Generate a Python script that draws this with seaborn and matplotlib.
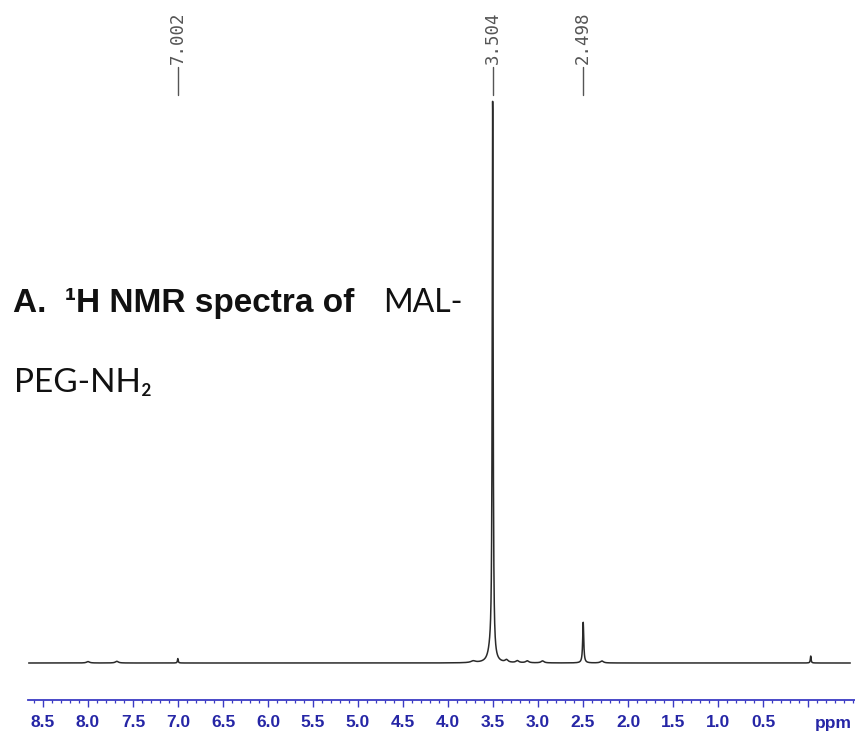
import numpy as np
import pandas as pd
import matplotlib
matplotlib.use("Agg")
import matplotlib.pyplot as plt
import matplotlib.transforms as mtransforms
import seaborn as sns

# ---- data ----
# peak positions (ppm), heights (relative, main peak = 100), half widths (ppm)
peak_ppm    = [8.00, 7.68, 7.002, 3.72, 3.53, 3.504, 3.35, 3.23, 3.12, 2.95, 2.498, 2.29, -0.03]
peak_height = [0.25, 0.30, 0.80,  0.30, 1.60, 100.0, 0.45, 0.35, 0.35, 0.35, 7.30,  0.35, 1.25]
peak_hwhm   = [0.02, 0.02, 0.005, 0.03, 0.03, 0.006, 0.02, 0.02, 0.02, 0.02, 0.007, 0.02, 0.005]

label_ppm = [7.002, 3.504, 2.498]
major_ticks = [8.5, 8.0, 7.5, 7.0, 6.5, 6.0, 5.5, 5.0, 4.5, 4.0, 3.5, 3.0, 2.5, 2.0, 1.5, 1.0, 0.5, 0.0]
major_labels = ["8.5", "8.0", "7.5", "7.0", "6.5", "6.0", "5.5", "5.0", "4.5", "4.0",
                "3.5", "3.0", "2.5", "2.0", "1.5", "1.0", "0.5", ""]

# spectrum built from the peak list (Lorentzian line shapes)
ppm = np.linspace(8.66, -0.47, 8000)
inten = np.zeros_like(ppm)
for p, h, w in zip(peak_ppm, peak_height, peak_hwhm):
    inten += h * w**2 / ((ppm - p)**2 + w**2)
df = pd.DataFrame({"ppm": ppm, "intensity": inten})

# ---- figure ----
sns.set_theme(style="white")
plt.rcParams["font.family"] = ["Liberation Sans", "DejaVu Sans"]

W, H = 855, 733
fig = plt.figure(figsize=(W / 100, H / 100), dpi=100)
ax = fig.add_axes([28 / W, 33 / H, (W - 28) / W, 700 / H])
ax.patch.set_alpha(0)

sns.lineplot(data=df, x="ppm", y="intensity", ax=ax, color="#2a2a2a",
             linewidth=1.1, sort=False, estimator=None)

ax.set_xlim(8.667, -0.522)
ax.set_ylim(-6.63, 118.8)
ax.set_xlabel("")
ax.set_ylabel("")
ax.set_yticks([])

for s in ["top", "left", "right"]:
    ax.spines[s].set_visible(False)
blue = "#3a3ac4"
ax.spines["bottom"].set_color(blue)
ax.spines["bottom"].set_linewidth(1.3)

ax.set_xticks(major_ticks)
ax.set_xticklabels(major_labels)
ax.set_xticks(np.round(np.arange(8.6, -0.55, -0.1), 2), minor=True)
ax.tick_params(axis="x", which="major", direction="out", length=5, width=1.0,
               color=blue, pad=5.5, labelsize=12.5, labelcolor="#2626a6", bottom=True)
ax.tick_params(axis="x", which="minor", direction="out", length=2.3, width=0.9,
               color=blue, bottom=True)
for lab in ax.get_xticklabels():
    lab.set_fontweight("bold")

trans = mtransforms.blended_transform_factory(ax.transData, ax.transAxes)
ax.text(-0.28, -0.033, "ppm", transform=trans, ha="center", va="center",
        fontsize=12.5, fontweight="bold", color="#2626a6")

# peak labels at top
for p in label_ppm:
    ax.plot([p, p], [1 - 67 / 700, 1 - 95 / 700], transform=trans,
            color="#555555", linewidth=1.0, clip_on=False)
    ax.text(p, 1 - 64 / 700, f"{p:.3f}", transform=trans, rotation=90,
            ha="center", va="bottom", fontsize=12.5, color="#555555",
            family=["DejaVu Sans Mono"])

# title text
fig.text(13 / W, 1 - 312 / H, "A.  ¹H NMR spectra of", fontsize=24,
         fontweight="bold", color="#111111", va="baseline", ha="left",
         family=["Liberation Sans", "DejaVu Sans"])
fig.text(383 / W, 1 - 312 / H, "MAL-", fontsize=23, color="#111111",
         va="baseline", ha="left", family=["Lato", "DejaVu Sans"])
fig.text(14 / W, 1 - 392 / H, "PEG-NH₂", fontsize=24, color="#111111",
         va="baseline", ha="left", family=["Lato", "DejaVu Sans"])

fig.savefig("out.png", dpi=100)
